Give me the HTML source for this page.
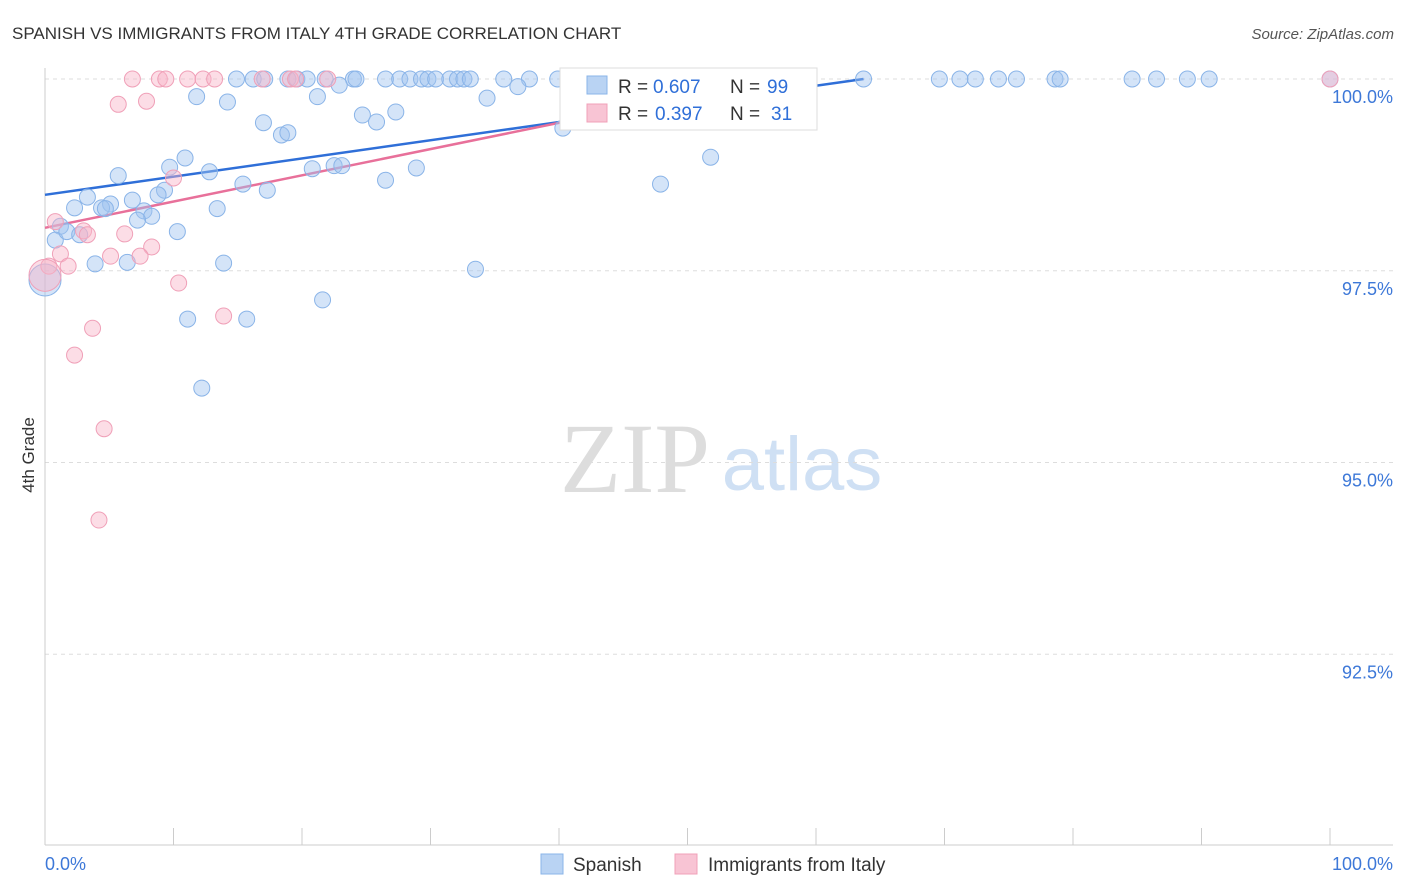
<!DOCTYPE html>
<html><head><meta charset="utf-8"><style>
body{margin:0;background:#fff;font-family:"Liberation Sans",sans-serif;}
#wrap{position:relative;width:1406px;height:892px;overflow:hidden;}
</style></head><body>
<div id="wrap">
<svg id="svg" width="1406" height="892">
<text x="12" y="39" font-size="17" fill="#333">SPANISH VS IMMIGRANTS FROM ITALY 4TH GRADE CORRELATION CHART</text>
<text x="1394" y="39" font-size="15" fill="#555" text-anchor="end" font-style="italic">Source: ZipAtlas.com</text>
<text x="34" y="455" font-size="17" fill="#333" text-anchor="middle" transform="rotate(-90 34 455)">4th Grade</text>
<g><text x="635" y="492" font-size="100" fill="#ddd" text-anchor="middle" font-family="Liberation Serif,serif">ZIP</text><text x="802" y="490" font-size="76" fill="#cfe0f4" text-anchor="middle">atlas</text></g>
<g id="grid"></g><g id="axes"></g><g id="lines"></g><g id="pts"></g>
<g>
<rect x="560" y="68" width="257" height="62" fill="#fff" stroke="#ddd"/>
<rect x="587" y="76" width="20" height="18" fill="#b9d3f3" stroke="#8ab4e8"/>
<text x="618" y="93" font-size="19" fill="#333">R =</text>
<text x="653" y="93" font-size="19" fill="#2f6fd8">0.607</text>
<text x="730" y="93" font-size="19" fill="#333">N =</text>
<text x="767" y="93" font-size="19" fill="#2f6fd8">99</text>
<rect x="587" y="104" width="20" height="18" fill="#f8c4d4" stroke="#f0a0b8"/>
<text x="618" y="120" font-size="19" fill="#333">R =</text>
<text x="655" y="120" font-size="19" fill="#2f6fd8">0.397</text>
<text x="730" y="120" font-size="19" fill="#333">N =</text>
<text x="771" y="120" font-size="19" fill="#2f6fd8">31</text>
</g>
<g>
<rect x="541" y="854" width="22" height="20" fill="#b9d3f3" stroke="#8ab4e8"/>
<text x="573" y="871" font-size="19" fill="#333">Spanish</text>
<rect x="675" y="854" width="22" height="20" fill="#f8c4d4" stroke="#f0a0b8"/>
<text x="708" y="871" font-size="19" fill="#333">Immigrants from Italy</text>
</g>
</svg></div>
<script>
const yTicks=[100,97.5,95,92.5];
const yTickLabels=["100.0%","97.5%","95.0%","92.5%"];
const xTickLabels=["0.0%","100.0%"];
const spanishX=[14.9,16.2,17.1,18.9,19.6,20.4,21.8,24.0,24.2,26.5,27.6,28.4,29.3,29.8,30.4,31.5,32.1,32.6,33.1,35.7,37.7,39.9,41.6,43.2,44.4,46.3,49.4,51.9,53.2,55.6,56.7,63.7,69.6,71.2,72.4,74.2,75.6,78.6,79.0,84.6,86.5,88.9,90.6,100,
11.8,14.2,21.2,22.9,36.8,34.4,24.7,25.8,27.3,17.0,18.4,18.9,40.3,51.8,47.9,10.9,9.7,12.8,5.7,15.4,17.3,20.8,22.5,23.1,26.5,28.9,9.3,8.8,3.3,6.8,5.1,2.3,4.4,4.7,7.7,8.3,13.4,7.2,1.2,0.8,1.7,2.7,10.3,3.9,6.4,13.9,33.5,21.6,11.1,15.7,12.2,0];
const spanishY=[100,100,100,100,100,100,100,100,100,100,100,100,100,100,100,100,100,100,100,100,100,100,100,100,100,100,100,100,100,100,100,100,100,100,100,100,100,100,100,100,100,100,100,100,
99.77,99.70,99.77,99.92,99.90,99.75,99.53,99.44,99.57,99.43,99.27,99.30,99.36,98.98,98.63,98.97,98.85,98.79,98.74,98.63,98.55,98.83,98.87,98.87,98.68,98.84,98.55,98.49,98.46,98.42,98.37,98.32,98.32,98.31,98.28,98.21,98.31,98.16,98.08,97.90,98.01,97.97,98.01,97.59,97.61,97.60,97.52,97.12,96.87,96.87,95.97,97.38];
const italyX=[6.8,8.9,9.4,11.1,12.3,13.2,16.9,19.1,19.5,22.0,100,5.7,7.9,10.0,0.8,3.0,3.3,6.2,8.3,1.2,5.1,7.4,1.8,0.3,10.4,3.7,13.9,2.3,4.6,4.2,0];
const italyY=[100,100,100,100,100,100,100,100,100,100,100,99.67,99.71,98.71,98.14,98.02,97.97,97.98,97.81,97.72,97.69,97.69,97.56,97.56,97.34,96.75,96.91,96.40,95.44,94.25,97.44];
const spanishTrend=[[0,98.49],[63.7,100]];
const italyTrend=[[0,98.06],[56.7,100]];
const NS="http://www.w3.org/2000/svg";
const sx=v=>45+v*12.85, sy=v=>79+(100-v)*76.7;
function mk(t,a,p){const e=document.createElementNS(NS,t);for(const k in a)e.setAttribute(k,a[k]);document.getElementById(p).appendChild(e);return e;}
yTicks.forEach((t,i)=>{
 const g=mk('line',{x1:45,x2:1393,y1:sy(t),y2:sy(t),stroke:'#ddd','stroke-dasharray':'4,4'},'grid');
 
 
 const l=mk('text',{x:1393,y:sy(t)+24,'font-size':18,fill:'#3d78d8','text-anchor':'end'},'axes');l.textContent=yTickLabels[i];
 
 
});
mk('line',{x1:45,x2:45,y1:68,y2:845,stroke:'#ccc'},'axes');
mk('line',{x1:45,x2:1393,y1:845,y2:845,stroke:'#ccc'},'axes');
for(let i=0;i<=10;i++){const t=mk('line',{x1:sx(i*10),x2:sx(i*10),y1:828,y2:845,stroke:'#ccc'},'axes');
 
 }
[[0,'start',45],[100,'end',1393]].forEach((o,i)=>{const l=mk('text',{x:o[2],y:870,'font-size':18,fill:'#3d78d8','text-anchor':o[1]},'axes');l.textContent=xTickLabels[i];
 
 });
function pts(X,Y,fill,stroke,name){X.forEach((x,i)=>{const big=(x===0&&Math.abs(Y[i]-97.4)<0.1);
 const c=mk('circle',{cx:sx(x),cy:sy(Y[i]),r:big?16:8,fill:fill,stroke:stroke,'stroke-width':1},'pts');
 
 });}
pts(spanishX,spanishY,'rgba(160,196,240,0.45)','#8ab4e8','spanish-point');
pts(italyX,italyY,'rgba(248,180,200,0.45)','#f0a0b8','italy-point');
const t1=mk('line',{x1:sx(spanishTrend[0][0]),y1:sy(spanishTrend[0][1]),x2:sx(spanishTrend[1][0]),y2:sy(spanishTrend[1][1]),stroke:'#2f6fd8','stroke-width':2.5},'lines');


const t2=mk('line',{x1:sx(italyTrend[0][0]),y1:sy(italyTrend[0][1]),x2:sx(italyTrend[1][0]),y2:sy(italyTrend[1][1]),stroke:'#e8709a','stroke-width':2.5},'lines');


</script>
</body></html>
